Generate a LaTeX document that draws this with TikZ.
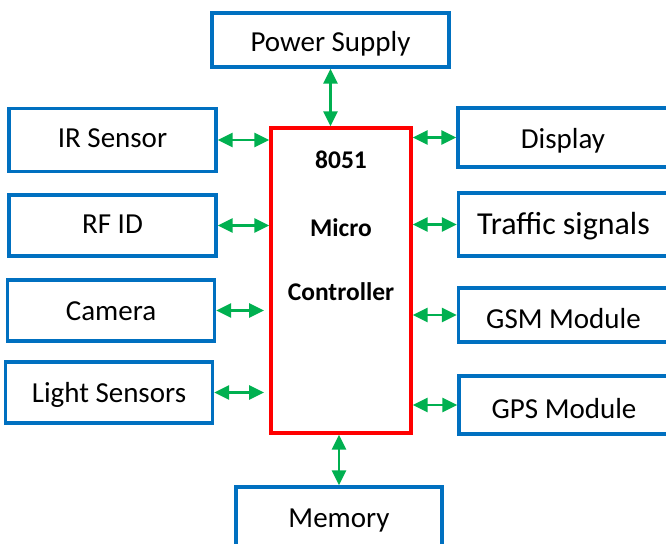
\documentclass[tikz,border=0pt]{standalone}
\usepackage{fontspec}
\setmainfont{Carlito}
\usetikzlibrary{arrows.meta}
\definecolor{boxblue}{RGB}{0,112,192}
\definecolor{chipred}{RGB}{255,0,0}
\definecolor{linkgreen}{RGB}{0,176,80}

\begin{document}
\begin{tikzpicture}[x=0.02cm, y=-0.02cm,
        block/.style={draw=boxblue, line width=1.9pt, inner sep=0pt,
            minimum width=4.14cm, minimum height=1.22cm,
            font=\fontsize{16.5}{20}\selectfont},
        baseline at/.style={text depth=0pt, text height=#1},
        chip/.style={draw=chipred, line width=1.9pt, minimum width=2.8cm, minimum height=6.1cm},
        chiptext/.style={font=\bfseries\fontsize{14.5}{17}\selectfont, inner sep=0pt},
        link/.style={draw=linkgreen, line width=1.4pt,
            {Triangle[length=8.5pt,width=8pt]}-{Triangle[length=8.5pt,width=8pt]}}]
        \useasboundingbox (0,0) rectangle (666,544);
        % controller
        \node[chip] (mc) at (341,280.5) {};
        \node[chiptext] (mcnum)  at (341,160) {8051};
        \node[chiptext] (mcword) at (341,228) {Micro};
        \node[chiptext] (mcname) at (341,292) {Controller};
        % top and bottom
        \node[block, baseline at=0.48cm, minimum width=4.74cm, minimum height=1.08cm] (power) at (330.5,40) {Power Supply};
        \node[block, baseline at=0.40cm, minimum width=4.12cm, minimum height=1.2cm]  (memory) at (339,517) {Memory};
        % left side
        \node[block, baseline at=0.32cm, minimum height=1.26cm] (ir)     at (112.5,140)   {IR Sensor};
        \node[block, baseline at=0.34cm]                        (rfid)   at (112.5,225.5) {RF ID};
        \node[block, baseline at=0.38cm]                        (camera) at (111,310.5)   {Camera};
        \node[block, baseline at=0.38cm]                        (light)  at (109,392.5)   {Light Sensors};
        % right side
        \node[block, baseline at=0.46cm, minimum width=4.2cm, minimum height=1.18cm] (display) at (563,137.5) {Display};
        \node[block, baseline at=0.42cm, minimum width=4.2cm, minimum height=1.26cm,
              font=\fontsize{18.2}{22}\selectfont]                                   (traffic) at (563.5,224.5) {Traffic signals};
        \node[block, baseline at=0.52cm, minimum width=4.2cm, minimum height=1.08cm] (gsm)     at (563.5,315)   {GSM Module};
        \node[block, baseline at=0.52cm, minimum width=4.2cm, minimum height=1.16cm] (gps)     at (564,405)     {GPS Module};
        % links
        \draw[link] (power.south)  -- (power.south |- mc.north);
        \draw[link] (memory.north) -- (memory.north |- mc.south);
        \draw[link] (ir.east)      -- (ir.east -| mc.west);
        \draw[link] (rfid.east)    -- (rfid.east -| mc.west);
        \draw[link, shorten >=3pt] (camera.east) -- (camera.east -| mc.west);
        \draw[link, shorten >=3pt] (light.east)  -- (light.east -| mc.west);
        \draw[link] (display.west) -- (display.west -| mc.east);
        \draw[link] (traffic.west) -- (traffic.west -| mc.east);
        \draw[link] (gsm.west)     -- (gsm.west -| mc.east);
        \draw[link] (gps.west)     -- (gps.west -| mc.east);
    \end{tikzpicture}
\end{document}
